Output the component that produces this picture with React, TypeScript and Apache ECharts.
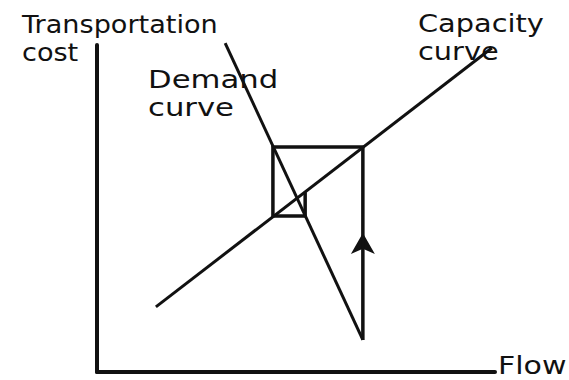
import React, { useEffect, useRef } from "react";
import * as echarts from "echarts";

// Data coordinates (flow on x, transportation cost on y), axes 0..100
const demandCurve: [number, number][] = [
  [32.2, 100.6],
  [66.8, 9.8],
];
const capacityCurve: [number, number][] = [
  [14.8, 19.9],
  [99.2, 99.1],
];
const cobwebPath: [number, number][] = [
  [66.8, 9.8],
  [66.8, 68.8],
  [44.2, 68.8],
  [44.2, 47.7],
  [52.3, 47.7],
  [52.3, 55.0],
];
const arrowPoint: [number, number][] = [[66.8, 42.5]];

const yAxisTitle = "Transportation\ncost";
const demandLabel = "Demand\ncurve";
const capacityLabel = "Capacity\ncurve";
const xAxisTitle = "Flow";

const FONT = "DejaVu Sans";
const INK = "#111";

export default function App() {
  const ref = useRef<HTMLDivElement>(null);

  useEffect(() => {
    if (!ref.current) return;
    const chart = echarts.init(ref.current, undefined, { renderer: "svg" });
    const txt = (text: string, x: number, y: number, scaleX: number) => ({
      type: "text",
      x,
      y,
      scaleX,
      style: {
        text,
        fill: INK,
        font: `24px "${FONT}"`,
        lineHeight: 28,
        textVerticalAlign: "middle",
        textAlign: "left",
      },
    });
    chart.setOption({
      animation: false,
      backgroundColor: "#fff",
      grid: { left: 97, right: 74, top: 45, bottom: 8 },
      xAxis: {
        type: "value",
        min: 0,
        max: 100,
        axisLine: { show: true, lineStyle: { color: INK, width: 4 } },
        axisTick: { show: false },
        axisLabel: { show: false },
        splitLine: { show: false },
      },
      yAxis: {
        type: "value",
        min: 0,
        max: 100,
        axisLine: { show: true, lineStyle: { color: INK, width: 4 } },
        axisTick: { show: false },
        axisLabel: { show: false },
        splitLine: { show: false },
      },
      series: [
        {
          type: "line",
          name: "Demand curve",
          data: demandCurve,
          clip: false,
          symbol: "none",
          lineStyle: { color: INK, width: 3 },
        },
        {
          type: "line",
          name: "Capacity curve",
          data: capacityCurve,
          clip: false,
          symbol: "none",
          lineStyle: { color: INK, width: 3 },
        },
        {
          type: "line",
          name: "Adjustment path",
          data: cobwebPath,
          clip: false,
          symbol: "none",
          lineStyle: { color: INK, width: 3.5, join: "miter" },
        },
        {
          type: "scatter",
          data: arrowPoint,
          symbol: "arrow",
          symbolSize: [18, 21],
          itemStyle: { color: INK, opacity: 1 },
          clip: false,
        },
      ],
      graphic: [
        txt(yAxisTitle, 22, 38.7, 1.13),
        txt(demandLabel, 148, 93, 1.28),
        txt(capacityLabel, 418, 37.7, 1.2),
        txt(xAxisTitle, 498, 365.7, 1.25),
      ],
    });
    return () => chart.dispose();
  }, []);

  return (
    <div
      ref={ref}
      style={{
        position: "fixed",
        left: 0,
        top: 0,
        width: 569,
        height: 380,
        background: "#fff",
      }}
    />
  );
}
